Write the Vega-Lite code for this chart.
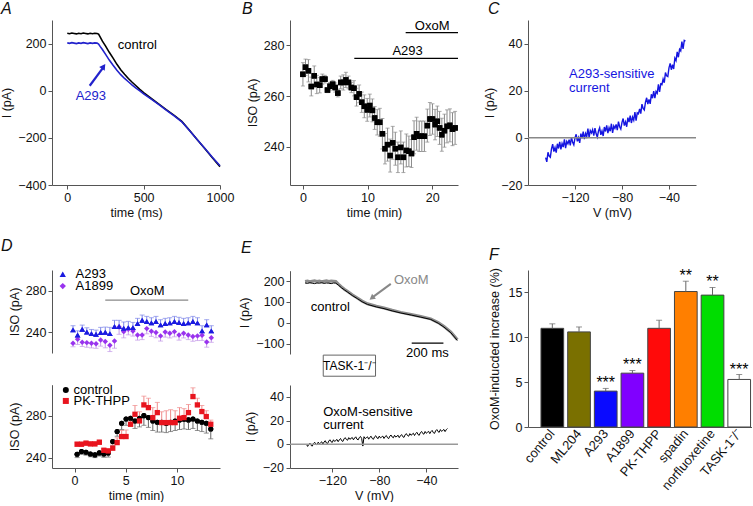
{
"$schema":"https://vega.github.io/schema/vega-lite/v6.json",
"padding":{"left":0,"top":0,"right":0,"bottom":0},
"bounds":"flush",
"columns":3,
"spacing":{"row":85,"column":70},
"config":{
 "font":"Liberation Sans",
 "view":{"stroke":null},
 "axis":{"grid":false,"domainColor":"#555","tickColor":"#555","labelColor":"#111","titleColor":"#111","labelFontSize":12.5,"titleFontSize":12.5,"titleFontWeight":"normal","labelFont":"Liberation Sans","titleFont":"Liberation Sans","tickSize":4,"labelPadding":2,"labelFlush":false,"labelOverlap":false},
 "axisQuantitative":{"format":"d"},
 "axisY":{"titlePadding":4},
 "axisX":{"titlePadding":3},
 "title":{"fontSize":16,"fontStyle":"italic","fontWeight":"normal","anchor":"start","frame":"group","font":"Liberation Sans","color":"#111","baseline":"alphabetic"},
 "text":{"font":"Liberation Sans","fontSize":13}
},
"datasets":{
 "b":[{"t":0,"v":268.6,"lo":264.0,"hi":273.2},{"t":0.4,"v":271.4,"lo":268.2,"hi":274.6},{"t":0.85,"v":270.0,"lo":265.6,"hi":274.4},{"t":1.3,"v":263.8,"lo":260.1,"hi":267.5},{"t":1.75,"v":268.0,"lo":264.1,"hi":271.9},{"t":2.15,"v":264.6,"lo":261.0,"hi":268.2},{"t":2.6,"v":264.3,"lo":261.3,"hi":267.3},{"t":3.0,"v":266.7,"lo":264.7,"hi":268.7},{"t":3.4,"v":266.7,"lo":265.2,"hi":268.2},{"t":3.8,"v":262.4,"lo":261.4,"hi":263.4},{"t":4.2,"v":263.9,"lo":262.4,"hi":265.4},{"t":4.6,"v":264.7,"lo":263.2,"hi":266.2},{"t":5.0,"v":263.4,"lo":261.6,"hi":265.2},{"t":5.4,"v":261.2,"lo":259.7,"hi":262.7},{"t":5.85,"v":265.4,"lo":262.9,"hi":267.9},{"t":6.25,"v":265.4,"lo":262.4,"hi":268.4},{"t":6.65,"v":266.4,"lo":263.4,"hi":269.4},{"t":7.05,"v":265.4,"lo":262.9,"hi":267.9},{"t":7.5,"v":263.4,"lo":261.4,"hi":265.4},{"t":7.9,"v":263.1,"lo":260.1,"hi":266.1},{"t":8.3,"v":259.6,"lo":256.1,"hi":263.1},{"t":8.7,"v":260.9,"lo":257.4,"hi":264.4},{"t":9.1,"v":257.6,"lo":253.6,"hi":261.6},{"t":9.5,"v":256.0,"lo":251.5,"hi":260.5},{"t":9.95,"v":254.6,"lo":250.1,"hi":259.1},{"t":10.35,"v":256.3,"lo":251.8,"hi":260.8},{"t":10.75,"v":254.4,"lo":249.9,"hi":258.9},{"t":11.1,"v":251.4,"lo":246.9,"hi":255.9},{"t":11.5,"v":249.7,"lo":244.7,"hi":254.7},{"t":11.9,"v":249.7,"lo":244.2,"hi":255.2},{"t":12.3,"v":245.2,"lo":239.2,"hi":251.2},{"t":12.7,"v":239.3,"lo":233.3,"hi":245.3},{"t":13.1,"v":240.9,"lo":234.4,"hi":247.4},{"t":13.5,"v":236.6,"lo":230.1,"hi":243.1},{"t":13.9,"v":241.6,"lo":235.1,"hi":248.1},{"t":14.3,"v":239.3,"lo":232.8,"hi":245.8},{"t":14.7,"v":235.9,"lo":229.9,"hi":241.9},{"t":15.15,"v":239.8,"lo":233.3,"hi":246.3},{"t":15.55,"v":235.9,"lo":229.9,"hi":241.9},{"t":16.0,"v":238.6,"lo":232.1,"hi":245.1},{"t":16.4,"v":238.3,"lo":232.3,"hi":244.3},{"t":16.8,"v":237.4,"lo":231.9,"hi":242.9},{"t":17.2,"v":243.8,"lo":237.3,"hi":250.3},{"t":17.6,"v":245.2,"lo":238.7,"hi":251.7},{"t":18.0,"v":244.2,"lo":238.2,"hi":250.2},{"t":18.4,"v":244.2,"lo":238.2,"hi":250.2},{"t":18.8,"v":244.2,"lo":238.2,"hi":250.2},{"t":19.25,"v":248.4,"lo":241.9,"hi":254.9},{"t":19.65,"v":251.0,"lo":244.5,"hi":257.5},{"t":20.05,"v":251.0,"lo":245.0,"hi":257.0},{"t":20.45,"v":248.8,"lo":242.8,"hi":254.8},{"t":20.8,"v":250.1,"lo":244.1,"hi":256.1},{"t":21.15,"v":247.5,"lo":241.0,"hi":254.0},{"t":21.5,"v":244.8,"lo":238.3,"hi":251.3},{"t":21.9,"v":246.4,"lo":239.9,"hi":252.9},{"t":22.3,"v":248.1,"lo":241.6,"hi":254.6},{"t":22.75,"v":248.5,"lo":242.0,"hi":255.0},{"t":23.15,"v":247.0,"lo":240.5,"hi":253.5},{"t":23.55,"v":247.5,"lo":241.0,"hi":254.0}],
 "c":[{"t":-145,"v":-8.4},{"t":-144,"v":-10.2},{"t":-143,"v":-6.1},{"t":-142,"v":-7.7},{"t":-141,"v":-8.2},{"t":-140,"v":-4.7},{"t":-139,"v":-2.7},{"t":-138,"v":-5.8},{"t":-137,"v":-4.1},{"t":-136,"v":-6.3},{"t":-135,"v":-2.5},{"t":-134,"v":-4.5},{"t":-133,"v":-1.7},{"t":-132,"v":-4.9},{"t":-131,"v":-2.4},{"t":-130,"v":-3.9},{"t":-129,"v":-0.6},{"t":-128,"v":-4.4},{"t":-127,"v":-1.5},{"t":-126,"v":-2.5},{"t":-125,"v":-0.8},{"t":-124,"v":-3.2},{"t":-123,"v":0.3},{"t":-122,"v":-1.9},{"t":-121,"v":-3.0},{"t":-120,"v":0.0},{"t":-119,"v":1.5},{"t":-118,"v":-1.5},{"t":-117,"v":0.1},{"t":-116,"v":-2.1},{"t":-115,"v":1.8},{"t":-114,"v":-0.2},{"t":-113,"v":2.6},{"t":-112,"v":-0.5},{"t":-111,"v":1.9},{"t":-110,"v":0.6},{"t":-109,"v":3.9},{"t":-108,"v":0.2},{"t":-107,"v":3.1},{"t":-106,"v":2.1},{"t":-105,"v":3.5},{"t":-104,"v":0.9},{"t":-103,"v":4.1},{"t":-102,"v":1.7},{"t":-101,"v":0.3},{"t":-100,"v":2.9},{"t":-99,"v":4.3},{"t":-98,"v":1.3},{"t":-97,"v":2.9},{"t":-96,"v":0.8},{"t":-95,"v":4.6},{"t":-94,"v":2.7},{"t":-93,"v":5.3},{"t":-92,"v":2.0},{"t":-91,"v":4.3},{"t":-90,"v":2.8},{"t":-89,"v":6.0},{"t":-88,"v":2.1},{"t":-87,"v":5.0},{"t":-86,"v":4.0},{"t":-85,"v":5.7},{"t":-84,"v":3.3},{"t":-83,"v":6.9},{"t":-82,"v":4.7},{"t":-81,"v":3.7},{"t":-80,"v":6.6},{"t":-79,"v":8.2},{"t":-78,"v":5.2},{"t":-77,"v":6.8},{"t":-76,"v":4.7},{"t":-75,"v":8.6},{"t":-74,"v":6.7},{"t":-73,"v":9.4},{"t":-72,"v":6.3},{"t":-71,"v":8.8},{"t":-70,"v":7.5},{"t":-69,"v":10.9},{"t":-68,"v":7.3},{"t":-67,"v":10.6},{"t":-66,"v":10.2},{"t":-65,"v":12.3},{"t":-64,"v":10.3},{"t":-63,"v":14.3},{"t":-62,"v":12.5},{"t":-61,"v":11.8},{"t":-60,"v":15.1},{"t":-59,"v":17.0},{"t":-58,"v":14.3},{"t":-57,"v":16.3},{"t":-56,"v":14.4},{"t":-55,"v":18.5},{"t":-54,"v":16.8},{"t":-53,"v":19.8},{"t":-52,"v":16.9},{"t":-51,"v":19.7},{"t":-50,"v":18.9},{"t":-49,"v":22.7},{"t":-48,"v":19.5},{"t":-47,"v":22.9},{"t":-46,"v":22.6},{"t":-45,"v":25.0},{"t":-44,"v":23.4},{"t":-43,"v":27.7},{"t":-42,"v":26.3},{"t":-41,"v":26.0},{"t":-40,"v":29.7},{"t":-39,"v":31.6},{"t":-38,"v":28.9},{"t":-37,"v":31.0},{"t":-36,"v":29.2},{"t":-35,"v":33.8},{"t":-34,"v":32.8},{"t":-33,"v":36.5},{"t":-32,"v":34.2},{"t":-31,"v":37.6},{"t":-30,"v":36.9},{"t":-29,"v":40.8},{"t":-28,"v":37.7},{"t":-27,"v":41.3},{"t":-26,"v":41.0}],
 "e2":[{"t":-142,"v":0.0},{"t":-141,"v":-1.8},{"t":-140,"v":-0.2},{"t":-139,"v":0.9},{"t":-138,"v":-1.0},{"t":-137,"v":-1.5},{"t":-136,"v":0.7},{"t":-135,"v":1.7},{"t":-134,"v":0.1},{"t":-133,"v":-0.5},{"t":-132,"v":1.8},{"t":-131,"v":0.4},{"t":-130,"v":1.2},{"t":-129,"v":2.1},{"t":-128,"v":0.2},{"t":-127,"v":1.9},{"t":-126,"v":3.0},{"t":-125,"v":1.1},{"t":-124,"v":0.6},{"t":-123,"v":2.7},{"t":-122,"v":3.8},{"t":-121,"v":2.1},{"t":-120,"v":1.6},{"t":-119,"v":3.8},{"t":-118,"v":2.4},{"t":-117,"v":3.2},{"t":-116,"v":4.1},{"t":-115,"v":2.2},{"t":-114,"v":3.8},{"t":-113,"v":4.9},{"t":-112,"v":3.0},{"t":-111,"v":2.4},{"t":-110,"v":4.6},{"t":-109,"v":5.6},{"t":-108,"v":4.0},{"t":-107,"v":3.4},{"t":-106,"v":5.6},{"t":-105,"v":4.2},{"t":-104,"v":5.0},{"t":-103,"v":5.7},{"t":-102,"v":3.8},{"t":-101,"v":5.3},{"t":-100,"v":6.3},{"t":-99,"v":4.3},{"t":-98,"v":3.7},{"t":-97,"v":5.7},{"t":-96,"v":6.6},{"t":-95,"v":4.9},{"t":-94,"v":-1.5},{"t":-93,"v":6.4},{"t":-92,"v":4.8},{"t":-91,"v":5.6},{"t":-90,"v":6.3},{"t":-89,"v":4.3},{"t":-88,"v":5.9},{"t":-87,"v":6.8},{"t":-86,"v":4.9},{"t":-85,"v":4.2},{"t":-84,"v":6.3},{"t":-83,"v":7.2},{"t":-82,"v":5.4},{"t":-81,"v":4.8},{"t":-80,"v":6.9},{"t":-79,"v":5.4},{"t":-78,"v":6.1},{"t":-77,"v":6.9},{"t":-76,"v":4.9},{"t":-75,"v":6.5},{"t":-74,"v":7.4},{"t":-73,"v":5.5},{"t":-72,"v":4.8},{"t":-71,"v":6.9},{"t":-70,"v":7.8},{"t":-69,"v":6.1},{"t":-68,"v":5.5},{"t":-67,"v":7.6},{"t":-66,"v":6.1},{"t":-65,"v":6.8},{"t":-64,"v":7.6},{"t":-63,"v":5.6},{"t":-62,"v":7.2},{"t":-61,"v":8.2},{"t":-60,"v":6.4},{"t":-59,"v":5.8},{"t":-58,"v":8.0},{"t":-57,"v":9.0},{"t":-56,"v":7.4},{"t":-55,"v":6.8},{"t":-54,"v":9.0},{"t":-53,"v":7.6},{"t":-52,"v":8.4},{"t":-51,"v":9.3},{"t":-50,"v":7.4},{"t":-49,"v":9.1},{"t":-48,"v":10.1},{"t":-47,"v":8.2},{"t":-46,"v":7.6},{"t":-45,"v":9.8},{"t":-44,"v":10.8},{"t":-43,"v":9.1},{"t":-42,"v":8.5},{"t":-41,"v":10.8},{"t":-40,"v":9.3},{"t":-39,"v":10.1},{"t":-38,"v":10.9},{"t":-37,"v":9.0},{"t":-36,"v":10.7},{"t":-35,"v":11.7},{"t":-34,"v":9.8},{"t":-33,"v":9.2},{"t":-32,"v":11.4},{"t":-31,"v":12.4},{"t":-30,"v":10.7},{"t":-29,"v":10.1},{"t":-28,"v":12.4},{"t":-27,"v":10.9},{"t":-26,"v":11.7},{"t":-25,"v":12.5},{"t":-24,"v":10.7},{"t":-23,"v":12.3},{"t":-22,"v":13.3}],
 "da293":[{"t":-0.15,"v":242.3,"hi":246.3},{"t":0.3,"v":237.4,"hi":241.4},{"t":0.75,"v":242.9,"hi":246.9},{"t":1.2,"v":240.3,"hi":244.3},{"t":1.65,"v":238.7,"hi":242.7},{"t":2.1,"v":238.1,"hi":242.1},{"t":2.55,"v":239.7,"hi":244.7},{"t":3.0,"v":240.0,"hi":245.0},{"t":3.45,"v":238.7,"hi":244.7},{"t":3.9,"v":245.5,"hi":251.5},{"t":4.35,"v":245.5,"hi":251.5},{"t":4.8,"v":243.9,"hi":249.9},{"t":5.25,"v":244.5,"hi":250.5},{"t":5.7,"v":244.5,"hi":249.5},{"t":6.15,"v":248.4,"hi":253.4},{"t":6.6,"v":251.6,"hi":256.6},{"t":7.05,"v":250.3,"hi":255.3},{"t":7.5,"v":249.0,"hi":254.0},{"t":7.95,"v":250.3,"hi":255.3},{"t":8.4,"v":247.1,"hi":252.1},{"t":8.85,"v":248.4,"hi":253.4},{"t":9.3,"v":249.0,"hi":254.0},{"t":9.75,"v":250.3,"hi":255.3},{"t":10.2,"v":249.4,"hi":254.4},{"t":10.65,"v":248.4,"hi":253.4},{"t":11.1,"v":249.0,"hi":254.0},{"t":11.55,"v":250.3,"hi":255.3},{"t":12.0,"v":249.0,"hi":254.0},{"t":12.45,"v":241.3,"hi":246.3},{"t":12.9,"v":247.1,"hi":252.1},{"t":13.35,"v":241.3,"hi":246.3}],
 "da1899":[{"t":-0.15,"v":229.4,"lo":226.0},{"t":0.3,"v":233.2,"lo":228.2},{"t":0.75,"v":230.3,"lo":226.3},{"t":1.2,"v":230.0,"lo":225.5},{"t":1.65,"v":229.4,"lo":224.9},{"t":2.1,"v":229.0,"lo":224.5},{"t":2.55,"v":232.6,"lo":226.6},{"t":3.0,"v":231.0,"lo":225.0},{"t":3.45,"v":227.4,"lo":221.4},{"t":3.9,"v":231.6,"lo":224.6},{"t":4.35,"v":245.0,"lo":238.0},{"t":4.8,"v":240.6,"lo":234.6},{"t":5.25,"v":243.0,"lo":237.5},{"t":5.7,"v":241.3,"lo":236.3},{"t":6.15,"v":237.4,"lo":232.4},{"t":6.6,"v":237.4,"lo":232.9},{"t":7.05,"v":243.5,"lo":238.5},{"t":7.5,"v":241.0,"lo":236.0},{"t":7.95,"v":239.7,"lo":234.7},{"t":8.4,"v":236.5,"lo":231.5},{"t":8.85,"v":240.3,"lo":235.3},{"t":9.3,"v":239.0,"lo":234.5},{"t":9.75,"v":240.6,"lo":235.6},{"t":10.2,"v":237.4,"lo":232.4},{"t":10.65,"v":239.0,"lo":234.5},{"t":11.1,"v":237.4,"lo":232.9},{"t":11.55,"v":235.8,"lo":231.3},{"t":12.0,"v":236.5,"lo":232.0},{"t":12.45,"v":237.1,"lo":232.1},{"t":12.9,"v":230.6,"lo":225.6},{"t":13.35,"v":234.8,"lo":230.3}],
 "dctl":[{"t":0.25,"v":243.2,"lo":240.0},{"t":0.68,"v":245.8,"lo":243.0},{"t":1.12,"v":245.1,"lo":242.3},{"t":1.55,"v":243.5,"lo":240.8},{"t":1.99,"v":242.6,"lo":240.0},{"t":2.42,"v":244.5,"lo":241.5},{"t":2.86,"v":243.5,"lo":240.3},{"t":3.29,"v":244.5,"lo":240.5},{"t":3.73,"v":255.4,"lo":251.5},{"t":4.16,"v":265.0,"lo":260.5},{"t":4.6,"v":273.0,"lo":267.0},{"t":5.03,"v":277.1,"lo":271.0},{"t":5.47,"v":277.8,"lo":270.5},{"t":5.9,"v":275.2,"lo":268.0},{"t":6.34,"v":277.8,"lo":269.5},{"t":6.77,"v":280.3,"lo":271.0},{"t":7.21,"v":278.4,"lo":269.0},{"t":7.64,"v":275.2,"lo":266.0},{"t":8.08,"v":273.9,"lo":264.5},{"t":8.51,"v":273.9,"lo":264.5},{"t":8.95,"v":273.0,"lo":264.0},{"t":9.38,"v":273.9,"lo":265.0},{"t":9.82,"v":275.2,"lo":266.0},{"t":10.25,"v":276.2,"lo":267.0},{"t":10.69,"v":276.8,"lo":267.5},{"t":11.12,"v":276.2,"lo":267.0},{"t":11.56,"v":277.1,"lo":268.0},{"t":11.99,"v":275.2,"lo":266.0},{"t":12.43,"v":273.9,"lo":265.0},{"t":12.86,"v":273.0,"lo":263.5},{"t":13.3,"v":267.5,"lo":258.0}],
 "dpk":[{"t":0.25,"v":252.8,"hi":255.0},{"t":0.68,"v":252.8,"hi":255.0},{"t":1.12,"v":253.8,"hi":256.0},{"t":1.55,"v":253.1,"hi":255.3},{"t":1.99,"v":253.1,"hi":255.3},{"t":2.42,"v":254.7,"hi":257.0},{"t":2.86,"v":247.0,"hi":249.0},{"t":3.29,"v":246.4,"hi":248.5},{"t":3.73,"v":249.0,"hi":252.0},{"t":4.16,"v":254.4,"hi":259.0},{"t":4.6,"v":260.2,"hi":266.0},{"t":5.03,"v":260.2,"hi":266.5},{"t":5.47,"v":272.0,"hi":279.0},{"t":5.9,"v":281.6,"hi":290.0},{"t":6.34,"v":275.2,"hi":284.0},{"t":6.77,"v":290.6,"hi":299.0},{"t":7.21,"v":288.0,"hi":297.0},{"t":7.64,"v":278.4,"hi":288.0},{"t":8.08,"v":283.2,"hi":293.0},{"t":8.51,"v":273.6,"hi":284.0},{"t":8.95,"v":273.6,"hi":285.0},{"t":9.38,"v":273.6,"hi":286.0},{"t":9.82,"v":273.6,"hi":285.0},{"t":10.25,"v":277.8,"hi":288.0},{"t":10.69,"v":278.4,"hi":287.0},{"t":11.12,"v":283.2,"hi":291.0},{"t":11.56,"v":298.6,"hi":307.0},{"t":11.99,"v":290.6,"hi":297.0},{"t":12.43,"v":284.2,"hi":290.0},{"t":12.86,"v":279.4,"hi":285.0},{"t":13.3,"v":272.0,"hi":276.0}],
 "f":[{"c":"control","v":11.0,"hi":11.5,"star":""},{"c":"ML204","v":10.6,"hi":11.15,"star":""},{"c":"A293","v":4.0,"hi":4.3,"star":"***"},{"c":"A1899","v":6.0,"hi":6.3,"star":"***"},{"c":"PK-THPP","v":11.0,"hi":11.9,"star":""},{"c":"spadin","v":15.1,"hi":16.25,"star":"**"},{"c":"norfluoxetine","v":14.7,"hi":15.55,"star":"**"},{"c":"TASK-1⁻/⁻","v":5.3,"hi":5.85,"star":"***"}]
},
"concat":[
  {"width":168,"height":165,
   "title":{"text":"A","dx":-51,"offset":3},
   "layer":[
    {"data":{"values":[{"t":0,"v":244},{"t":15,"v":242},{"t":30,"v":245},{"t":45,"v":243},{"t":60,"v":241},{"t":75,"v":244},{"t":90,"v":242},{"t":105,"v":245},{"t":120,"v":243},{"t":135,"v":241},{"t":150,"v":244},{"t":165,"v":242},{"t":180,"v":244},{"t":195,"v":243},{"t":205,"v":240},{"t":215,"v":228},{"t":230,"v":210},{"t":250,"v":190},{"t":275,"v":163},{"t":300,"v":138},{"t":325,"v":112},{"t":350,"v":89},{"t":375,"v":70},{"t":400,"v":52},{"t":425,"v":36},{"t":450,"v":21},{"t":475,"v":6},{"t":500,"v":-8},{"t":550,"v":-33},{"t":600,"v":-57},{"t":650,"v":-81},{"t":700,"v":-105},{"t":750,"v":-130},{"t":800,"v":-168},{"t":850,"v":-207},{"t":900,"v":-245},{"t":950,"v":-284},{"t":1000,"v":-322}]},
     "mark":{"type":"line","color":"#000000","strokeWidth":1.6},
     "encoding":{
      "x":{"field":"t","type":"quantitative","scale":{"domain":[-100,1000],"nice":false,"zero":false},"axis":{"title":"time (ms)","values":[0,500,1000]}},
      "y":{"field":"v","type":"quantitative","scale":{"domain":[-400,300],"nice":false,"zero":false},"axis":{"title":"I (pA)","values":[-400,-200,0,200]}}}},
    {"data":{"values":[{"t":0,"v":203},{"t":15,"v":201},{"t":30,"v":204},{"t":45,"v":202},{"t":60,"v":200},{"t":75,"v":203},{"t":90,"v":201},{"t":105,"v":204},{"t":120,"v":202},{"t":135,"v":200},{"t":150,"v":203},{"t":165,"v":201},{"t":180,"v":203},{"t":195,"v":202},{"t":205,"v":198},{"t":215,"v":188},{"t":230,"v":175},{"t":250,"v":155},{"t":275,"v":130},{"t":300,"v":108},{"t":325,"v":87},{"t":350,"v":68},{"t":375,"v":52},{"t":400,"v":38},{"t":425,"v":24},{"t":450,"v":11},{"t":475,"v":-1},{"t":500,"v":-13},{"t":550,"v":-36},{"t":600,"v":-59},{"t":650,"v":-83},{"t":700,"v":-107},{"t":750,"v":-132},{"t":800,"v":-169},{"t":850,"v":-207},{"t":900,"v":-244},{"t":950,"v":-282},{"t":1000,"v":-318}]},
     "mark":{"type":"line","color":"#2222cc","strokeWidth":1.6},
     "encoding":{"x":{"field":"t","type":"quantitative"},"y":{"field":"v","type":"quantitative"}}},
    {"data":{"values":[{"t":147,"v":21,"t2":236,"v2":99}]},
     "mark":{"type":"rule","color":"#2222cc","strokeWidth":2.2},
     "encoding":{"x":{"field":"t","type":"quantitative"},"y":{"field":"v","type":"quantitative"},"x2":{"field":"t2"},"y2":{"field":"v2"}}},
    {"data":{"values":[{"t":238,"v":103}]},
     "mark":{"type":"point","shape":"triangle-up","filled":true,"size":45,"angle":35,"color":"#2222cc","opacity":1},
     "encoding":{"x":{"field":"t","type":"quantitative"},"y":{"field":"v","type":"quantitative"}}},
    {"data":{"values":[{"t":331,"v":194,"label":"control"}]},
     "mark":{"type":"text","align":"left","baseline":"middle","color":"#000000"},
     "encoding":{"x":{"field":"t","type":"quantitative"},"y":{"field":"v","type":"quantitative"},"text":{"field":"label"}}},
    {"data":{"values":[{"t":55,"v":-22,"label":"A293"}]},
     "mark":{"type":"text","align":"left","baseline":"middle","color":"#2222cc"},
     "encoding":{"x":{"field":"t","type":"quantitative"},"y":{"field":"v","type":"quantitative"},"text":{"field":"label"}}}
   ]},
  {"width":168,"height":165,
   "title":{"text":"B","dx":-48,"offset":3},
   "layer":[
    {"data":{"name":"b"},
     "mark":{"type":"point","shape":"square","filled":true,"size":30,"color":"#000000","opacity":1},
     "encoding":{
      "x":{"field":"t","type":"quantitative","scale":{"domain":[-2,24],"nice":false,"zero":false},"axis":{"title":"time (min)","values":[0,10,20]}},
      "y":{"field":"v","type":"quantitative","scale":{"domain":[225,290],"nice":false,"zero":false},"axis":{"title":"ISO (pA)","values":[240,260,280]}}}},
    {"data":{"name":"b"},
     "mark":{"type":"rule","color":"#8a8a8a","strokeWidth":1},
     "encoding":{"x":{"field":"t","type":"quantitative"},"y":{"field":"lo","type":"quantitative"},"y2":{"field":"hi"}}},
    {"data":{"name":"b"},
     "mark":{"type":"tick","orient":"horizontal","size":4,"thickness":1,"color":"#8a8a8a"},
     "encoding":{"x":{"field":"t","type":"quantitative"},"y":{"field":"hi","type":"quantitative"}}},
    {"data":{"name":"b"},
     "mark":{"type":"tick","orient":"horizontal","size":4,"thickness":1,"color":"#8a8a8a"},
     "encoding":{"x":{"field":"t","type":"quantitative"},"y":{"field":"lo","type":"quantitative"}}},
    {"data":{"name":"b"},
     "mark":{"type":"point","shape":"square","filled":true,"size":30,"color":"#000000","opacity":1},
     "encoding":{"x":{"field":"t","type":"quantitative"},"y":{"field":"v","type":"quantitative"}}},
    {"data":{"values":[{"t":15.9,"t2":24,"v":285},{"t":7.95,"t2":24,"v":274.9}]},
     "mark":{"type":"rule","color":"#000000","strokeWidth":1.3},
     "encoding":{"x":{"field":"t","type":"quantitative"},"x2":{"field":"t2"},"y":{"field":"v","type":"quantitative"}}},
    {"data":{"values":[{"t":20,"v":287.8,"label":"OxoM"},{"t":16.2,"v":277.6,"label":"A293"}]},
     "mark":{"type":"text","align":"center","baseline":"middle","color":"#000000"},
     "encoding":{"x":{"field":"t","type":"quantitative"},"y":{"field":"v","type":"quantitative"},"text":{"field":"label"}}}
   ]},
  {"width":168,"height":165,
   "title":{"text":"C","dx":-40,"offset":3},
   "layer":[
    {"data":{"name":"c"},
     "mark":{"type":"line","color":"#1515e0","strokeWidth":1.4},
     "encoding":{
      "x":{"field":"t","type":"quantitative","scale":{"domain":[-160,-17],"nice":false,"zero":false},"axis":{"title":"V (mV)","values":[-120,-80,-40]}},
      "y":{"field":"v","type":"quantitative","scale":{"domain":[-20,50],"nice":false,"zero":false},"axis":{"title":"I (pA)","values":[-20,0,20,40]}}}},
    {"data":{"values":[{"t":-160,"v":0},{"t":-17,"v":0}]},
     "mark":{"type":"line","color":"#888888","strokeWidth":1.5},
     "encoding":{"x":{"field":"t","type":"quantitative"},"y":{"field":"v","type":"quantitative"}}},
    {"data":{"values":[{"t":-125,"v":27.2,"label":"A293-sensitive"},{"t":-125,"v":21.2,"label":"current"}]},
     "mark":{"type":"text","align":"left","baseline":"middle","color":"#1515e0"},
     "encoding":{"x":{"field":"t","type":"quantitative"},"y":{"field":"v","type":"quantitative"},"text":{"field":"label"}}}
   ]},
  {"width":168,"height":198,
   "title":{"text":"D","dx":-51,"offset":14},
   "resolve":{"scale":{"x":"independent","y":"independent"},"axis":{"x":"independent","y":"independent"}},
   "layer":[
    {"layer":[
     {"data":{"name":"da293"},
      "mark":{"type":"point","shape":"triangle-up","filled":true,"size":32,"color":"#1a1ae0","opacity":1},
      "encoding":{
       "x":{"field":"t","type":"quantitative","scale":{"domain":[-2.2,14.2],"nice":false,"zero":false},"axis":null},
       "y":{"field":"v","type":"quantitative","scale":{"domain":[220,300],"nice":false,"zero":false,"range":[83,0]},"axis":{"orient":"left","title":"ISO (pA)","values":[240,280]}}}},
     {"data":{"name":"da293"},
      "mark":{"type":"rule","color":"#7d86e8","strokeWidth":1},
      "encoding":{"x":{"field":"t","type":"quantitative"},"y":{"field":"v","type":"quantitative"},"y2":{"field":"hi"}}},
     {"data":{"name":"da293"},
      "mark":{"type":"tick","orient":"horizontal","size":5,"thickness":1,"color":"#7d86e8"},
      "encoding":{"x":{"field":"t","type":"quantitative"},"y":{"field":"hi","type":"quantitative"}}},
     {"data":{"name":"da1899"},
      "mark":{"type":"rule","color":"#c49ae8","strokeWidth":1},
      "encoding":{"x":{"field":"t","type":"quantitative"},"y":{"field":"lo","type":"quantitative"},"y2":{"field":"v"}}},
     {"data":{"name":"da1899"},
      "mark":{"type":"tick","orient":"horizontal","size":5,"thickness":1,"color":"#c49ae8"},
      "encoding":{"x":{"field":"t","type":"quantitative"},"y":{"field":"lo","type":"quantitative"}}},
     {"data":{"name":"da1899"},
      "mark":{"type":"point","shape":"diamond","filled":true,"size":30,"color":"#9933ee","opacity":1},
      "encoding":{"x":{"field":"t","type":"quantitative"},"y":{"field":"v","type":"quantitative"}}},
     {"data":{"name":"da293"},
      "mark":{"type":"point","shape":"triangle-up","filled":true,"size":32,"color":"#1a1ae0","opacity":1},
      "encoding":{"x":{"field":"t","type":"quantitative"},"y":{"field":"v","type":"quantitative"}}},
     {"data":{"values":[{"t":-1.15,"v":296}]},
      "mark":{"type":"point","shape":"triangle-up","filled":true,"size":40,"color":"#1a1ae0","opacity":1},
      "encoding":{"x":{"field":"t","type":"quantitative"},"y":{"field":"v","type":"quantitative"}}},
     {"data":{"values":[{"t":-1.15,"v":284.5}]},
      "mark":{"type":"point","shape":"diamond","filled":true,"size":40,"color":"#9933ee","opacity":1},
      "encoding":{"x":{"field":"t","type":"quantitative"},"y":{"field":"v","type":"quantitative"}}},
     {"data":{"values":[{"t":3.0,"t2":11.1,"v":271}]},
      "mark":{"type":"rule","color":"#888888","strokeWidth":1.3},
      "encoding":{"x":{"field":"t","type":"quantitative"},"x2":{"field":"t2"},"y":{"field":"v","type":"quantitative"}}},
     {"data":{"values":[{"t":0.1,"v":296,"label":"A293"},{"t":0.1,"v":284.5,"label":"A1899"}]},
      "mark":{"type":"text","align":"left","baseline":"middle","color":"#000000"},
      "encoding":{"x":{"field":"t","type":"quantitative"},"y":{"field":"v","type":"quantitative"},"text":{"field":"label"}}},
     {"data":{"values":[{"t":7.1,"v":279.5,"label":"OxoM"}]},
      "mark":{"type":"text","align":"center","baseline":"middle","color":"#000000"},
      "encoding":{"x":{"field":"t","type":"quantitative"},"y":{"field":"v","type":"quantitative"},"text":{"field":"label"}}}
    ]},
    {"layer":[
     {"data":{"name":"dctl"},
      "mark":{"type":"point","shape":"circle","filled":true,"size":26,"color":"#000000","opacity":1},
      "encoding":{
       "x":{"field":"t","type":"quantitative","scale":{"domain":[-2.2,14.2],"nice":false,"zero":false},"axis":{"orient":"bottom","title":"time (min)","values":[0,5,10]}},
       "y":{"field":"v","type":"quantitative","scale":{"domain":[230,310],"nice":false,"zero":false,"range":[198,114.7]},"axis":{"orient":"left","title":"ISO (pA)","values":[240,280]}}}},
     {"data":{"name":"dctl"},
      "mark":{"type":"rule","color":"#666666","strokeWidth":1},
      "encoding":{"x":{"field":"t","type":"quantitative"},"y":{"field":"lo","type":"quantitative"},"y2":{"field":"v"}}},
     {"data":{"name":"dctl"},
      "mark":{"type":"tick","orient":"horizontal","size":5,"thickness":1,"color":"#666666"},
      "encoding":{"x":{"field":"t","type":"quantitative"},"y":{"field":"lo","type":"quantitative"}}},
     {"data":{"name":"dpk"},
      "mark":{"type":"rule","color":"#f08a8a","strokeWidth":1},
      "encoding":{"x":{"field":"t","type":"quantitative"},"y":{"field":"v","type":"quantitative"},"y2":{"field":"hi"}}},
     {"data":{"name":"dpk"},
      "mark":{"type":"tick","orient":"horizontal","size":5,"thickness":1,"color":"#f08a8a"},
      "encoding":{"x":{"field":"t","type":"quantitative"},"y":{"field":"hi","type":"quantitative"}}},
     {"data":{"name":"dctl"},
      "mark":{"type":"point","shape":"circle","filled":true,"size":26,"color":"#000000","opacity":1},
      "encoding":{"x":{"field":"t","type":"quantitative"},"y":{"field":"v","type":"quantitative"}}},
     {"data":{"name":"dpk"},
      "mark":{"type":"point","shape":"square","filled":true,"size":28,"color":"#e8141e","opacity":1},
      "encoding":{"x":{"field":"t","type":"quantitative"},"y":{"field":"v","type":"quantitative"}}},
     {"data":{"values":[{"t":-0.85,"v":305}]},
      "mark":{"type":"point","shape":"circle","filled":true,"size":36,"color":"#000000","opacity":1},
      "encoding":{"x":{"field":"t","type":"quantitative"},"y":{"field":"v","type":"quantitative"}}},
     {"data":{"values":[{"t":-0.85,"v":294.4}]},
      "mark":{"type":"point","shape":"square","filled":true,"size":36,"color":"#e8141e","opacity":1},
      "encoding":{"x":{"field":"t","type":"quantitative"},"y":{"field":"v","type":"quantitative"}}},
     {"data":{"values":[{"t":-0.1,"v":305,"label":"control"},{"t":-0.1,"v":294.4,"label":"PK-THPP"}]},
      "mark":{"type":"text","align":"left","baseline":"middle","color":"#000000"},
      "encoding":{"x":{"field":"t","type":"quantitative"},"y":{"field":"v","type":"quantitative"},"text":{"field":"label"}}}
    ]}
   ]},
  {"width":168,"height":198,
   "title":{"text":"E","dx":-49,"offset":14},
   "resolve":{"scale":{"x":"independent","y":"independent"},"axis":{"x":"independent","y":"independent"}},
   "layer":[
    {"layer":[
     {"data":{"name":"e2"},
      "mark":{"type":"line","color":"#000000","strokeWidth":1},
      "encoding":{
       "x":{"field":"t","type":"quantitative","scale":{"domain":[-156,-13],"nice":false,"zero":false},"axis":{"orient":"bottom","title":"V (mV)","values":[-120,-80,-40]}},
       "y":{"field":"v","type":"quantitative","scale":{"domain":[-20,50],"nice":false,"zero":false,"range":[198,115]},"axis":{"orient":"left","title":"I (pA)","values":[-20,0,20,40],"labels":false,"titlePadding":28}}}},
     {"data":{"values":[{"t":-156,"v":-20,"label":"−20"},{"t":-156,"v":0,"label":"0"},{"t":-156,"v":20,"label":"20"},{"t":-156,"v":40,"label":"40"}]},
      "mark":{"type":"text","align":"right","baseline":"middle","dx":-6,"fontSize":12.5,"color":"#111111"},
      "encoding":{"x":{"field":"t","type":"quantitative"},"y":{"field":"v","type":"quantitative"},"text":{"field":"label"}}},
     {"data":{"values":[{"t":-156,"v":0},{"t":-13,"v":0}]},
      "mark":{"type":"line","color":"#999999","strokeWidth":1.5},
      "encoding":{"x":{"field":"t","type":"quantitative"},"y":{"field":"v","type":"quantitative"}}},
     {"data":{"values":[{"t":-127.7,"t2":-83.2,"v":57.4,"v2":75.2}]},
      "mark":{"type":"rect","fill":"#ffffff","stroke":"#666666","strokeWidth":1},
      "encoding":{"x":{"field":"t","type":"quantitative"},"x2":{"field":"t2"},"y":{"field":"v","type":"quantitative"},"y2":{"field":"v2"}}},
     {"data":{"values":[{"t":-105.5,"v":66.3,"label":"TASK-1⁻/⁻"}]},
      "mark":{"type":"text","align":"center","baseline":"middle","color":"#000000","fontSize":12},
      "encoding":{"x":{"field":"t","type":"quantitative"},"y":{"field":"v","type":"quantitative"},"text":{"field":"label"}}},
     {"data":{"values":[{"t":-127.7,"v":27.6,"label":"OxoM-sensitive"},{"t":-127.7,"v":16.2,"label":"current"}]},
      "mark":{"type":"text","align":"left","baseline":"middle","color":"#000000"},
      "encoding":{"x":{"field":"t","type":"quantitative"},"y":{"field":"v","type":"quantitative"},"text":{"field":"label"}}}
    ]},
    {"layer":[
     {"data":{"values":[{"t":0,"v":198},{"t":15,"v":200},{"t":30,"v":197},{"t":45,"v":199},{"t":60,"v":201},{"t":75,"v":198},{"t":90,"v":200},{"t":105,"v":197},{"t":120,"v":199},{"t":135,"v":201},{"t":150,"v":198},{"t":165,"v":200},{"t":180,"v":199},{"t":194,"v":198},{"t":210,"v":186},{"t":230,"v":172},{"t":250,"v":160},{"t":267,"v":151},{"t":300,"v":133},{"t":330,"v":119},{"t":360,"v":104},{"t":394,"v":91},{"t":450,"v":79},{"t":498,"v":71},{"t":550,"v":60},{"t":604,"v":50},{"t":670,"v":40},{"t":730,"v":30},{"t":793,"v":19},{"t":840,"v":1},{"t":877,"v":-18},{"t":920,"v":-45},{"t":961,"v":-82}]},
      "mark":{"type":"line","color":"#8c8c8c","strokeWidth":3},
      "encoding":{
       "x":{"field":"t","type":"quantitative","scale":{"domain":[-95,965],"nice":false,"zero":false},"axis":null},
       "y":{"field":"v","type":"quantitative","scale":{"domain":[-150,250],"nice":false,"zero":false,"range":[84,0.7]},"axis":{"orient":"left","title":"I (pA)","values":[-100,0,100,200]}}}},
     {"data":{"values":[{"t":0,"v":191},{"t":15,"v":189},{"t":30,"v":192},{"t":45,"v":190},{"t":60,"v":188},{"t":75,"v":191},{"t":90,"v":190},{"t":105,"v":192},{"t":120,"v":189},{"t":135,"v":191},{"t":150,"v":190},{"t":165,"v":188},{"t":180,"v":191},{"t":194,"v":190},{"t":210,"v":181},{"t":230,"v":168},{"t":250,"v":157},{"t":267,"v":148},{"t":300,"v":130},{"t":330,"v":116},{"t":360,"v":101},{"t":394,"v":88},{"t":450,"v":76},{"t":498,"v":68},{"t":550,"v":57},{"t":604,"v":47},{"t":670,"v":37},{"t":730,"v":27},{"t":793,"v":16},{"t":840,"v":-2},{"t":877,"v":-21},{"t":920,"v":-48},{"t":961,"v":-85}]},
      "mark":{"type":"line","color":"#000000","strokeWidth":1},
      "encoding":{"x":{"field":"t","type":"quantitative"},"y":{"field":"v","type":"quantitative"}}},
     {"data":{"values":[{"t":541,"v":187,"t2":425,"v2":122}]},
      "mark":{"type":"rule","color":"#888888","strokeWidth":2},
      "encoding":{"x":{"field":"t","type":"quantitative"},"y":{"field":"v","type":"quantitative"},"x2":{"field":"t2"},"y2":{"field":"v2"}}},
     {"data":{"values":[{"t":421,"v":119}]},
      "mark":{"type":"point","shape":"triangle-up","filled":true,"size":40,"angle":233,"color":"#888888","opacity":1},
      "encoding":{"x":{"field":"t","type":"quantitative"},"y":{"field":"v","type":"quantitative"}}},
     {"data":{"values":[{"t":673,"t2":873,"v":-98}]},
      "mark":{"type":"rule","color":"#000000","strokeWidth":1.3},
      "encoding":{"x":{"field":"t","type":"quantitative"},"x2":{"field":"t2"},"y":{"field":"v","type":"quantitative"}}},
     {"data":{"values":[{"t":561,"v":203,"label":"OxoM"}]},
      "mark":{"type":"text","align":"left","baseline":"middle","color":"#888888"},
      "encoding":{"x":{"field":"t","type":"quantitative"},"y":{"field":"v","type":"quantitative"},"text":{"field":"label"}}},
     {"data":{"values":[{"t":36,"v":75,"label":"control"}]},
      "mark":{"type":"text","align":"left","baseline":"middle","color":"#000000"},
      "encoding":{"x":{"field":"t","type":"quantitative"},"y":{"field":"v","type":"quantitative"},"text":{"field":"label"}}},
     {"data":{"values":[{"t":772,"v":-146,"label":"200 ms"}]},
      "mark":{"type":"text","align":"center","baseline":"middle","color":"#000000"},
      "encoding":{"x":{"field":"t","type":"quantitative"},"y":{"field":"v","type":"quantitative"},"text":{"field":"label"}}}
    ]}
   ]},
  {"width":224,"height":157,
   "title":{"text":"F","dx":-39,"offset":5},
   "layer":[
    {"data":{"name":"f"},
     "mark":{"type":"bar","stroke":"#444444","strokeWidth":1},
     "encoding":{
      "x":{"field":"c","type":"nominal","sort":null,"scale":{"paddingInner":0.15,"paddingOuter":0.27,"align":0.9},"axis":{"title":null,"ticks":false,"labelAngle":-50,"labelAlign":"right","labelBaseline":"middle","labelFontSize":13,"labelPadding":4}},
      "y":{"field":"v","type":"quantitative","scale":{"domain":[0,17.5],"nice":false,"zero":false},"axis":{"title":"OxoM-inducded increase (%)","titlePadding":7,"values":[0,5,10,15]}},
      "color":{"field":"c","type":"nominal","scale":{"domain":["control","ML204","A293","A1899","PK-THPP","spadin","norfluoxetine","TASK-1⁻/⁻"],"range":["#000000","#7a7000","#0a0aff","#8000ff","#ff0a0a","#ff7f00","#00dd00","#ffffff"]},"legend":null}}},
    {"data":{"name":"f"},
     "mark":{"type":"rule","color":"#666666","strokeWidth":1},
     "encoding":{"x":{"field":"c","type":"nominal","sort":null},"y":{"field":"v","type":"quantitative"},"y2":{"field":"hi"}}},
    {"data":{"name":"f"},
     "mark":{"type":"tick","orient":"horizontal","size":6,"thickness":1,"color":"#666666"},
     "encoding":{"x":{"field":"c","type":"nominal","sort":null},"y":{"field":"hi","type":"quantitative"}}},
    {"data":{"name":"f"},
     "mark":{"type":"text","align":"center","baseline":"alphabetic","fontSize":16,"dy":0,"color":"#000000"},
     "encoding":{"x":{"field":"c","type":"nominal","sort":null},"y":{"field":"hi","type":"quantitative"},"text":{"field":"star"}}}
   ]}
]
}
